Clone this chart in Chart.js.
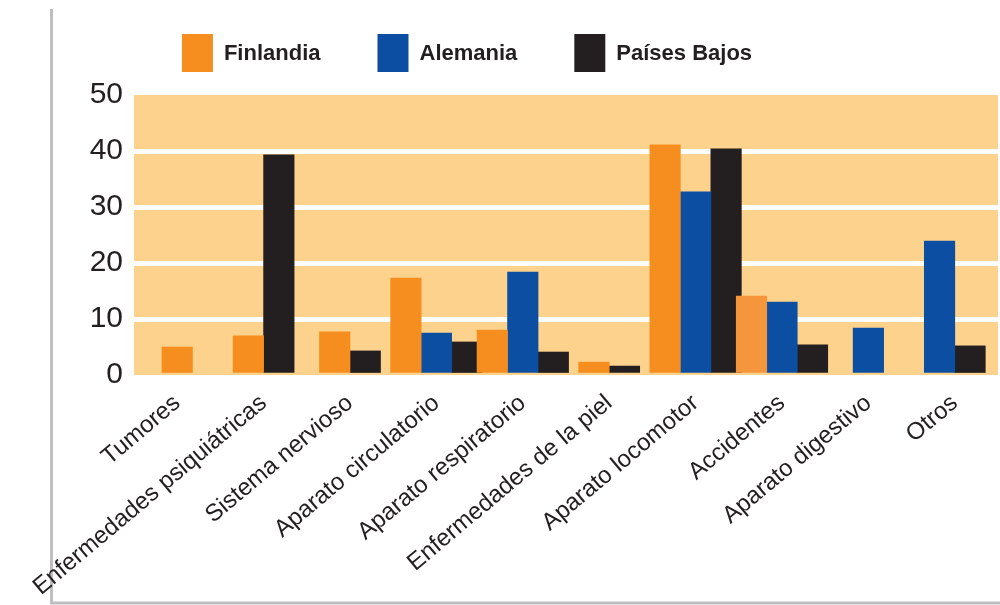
<!DOCTYPE html>
<html>
<head>
<meta charset="utf-8">
<script src="https://cdn.jsdelivr.net/npm/chart.js@4"></script>
<style>
  body { margin: 0; background: #fff; }
  #wrap { width: 1000px; height: 605px; position: relative; }
</style>
</head>
<body>
<div id="wrap"><canvas id="chart"></canvas></div>
<script>
const categories = ['Tumores', 'Enfermedades psiquiátricas', 'Sistema nervioso', 'Aparato circulatorio',
  'Aparato respiratorio', 'Enfermedades de la piel', 'Aparato locomotor', 'Accidentes',
  'Aparato digestivo', 'Otros'];
const finlandia = [5.0, 7.0, 7.7, 17.3, 8.0, 2.3, 41.1, 14.1, null, null];
const alemania = [null, null, null, 7.5, 18.4, null, 32.7, 13.0, 8.4, 23.9];
const paisesBajos = [null, 39.3, 4.3, 5.9, 4.1, 1.6, 40.4, 5.4, null, 5.2];
const yTicks = [0, 10, 20, 30, 40, 50];

const FONT = "'Liberation Sans', Arial, Helvetica, sans-serif";
const INK = '#231F20';
const ORANGE = '#F58E1F';
const ORANGE_LIGHT = '#F5963D';
const BLUE = '#0C4FA2';
const BAND = '#FDD28C';

// orange fill behind the plot + grey frame lines on the left and bottom
const backdrop = {
  id: 'backdrop',
  beforeDraw(chart) {
    const {ctx, chartArea: a} = chart;
    ctx.save();
    ctx.fillStyle = BAND;
    ctx.fillRect(a.left, a.top, a.right - a.left, a.bottom - a.top);
    ctx.strokeStyle = '#BFBFC2';
    ctx.lineWidth = 3;
    ctx.beginPath();
    ctx.moveTo(51.5, 9);
    ctx.lineTo(51.5, 603);
    ctx.lineTo(1000, 603);
    ctx.stroke();
    ctx.restore();
  }
};

// the legend sits a bit left of centre and above its box
const legendNudge = {
  id: 'legendNudge',
  afterLayout(chart) {
    const lg = chart.legend;
    lg.left -= 32; lg.right -= 32;
    lg.top -= 23; lg.bottom -= 23;
  }
};

new Chart(document.getElementById('chart'), {
  type: 'bar',
  data: {
    labels: categories,
    datasets: [
      { label: 'Finlandia', data: finlandia,
        backgroundColor: c => c.dataIndex === 7 ? ORANGE_LIGHT : ORANGE },
      { label: 'Alemania', data: alemania, backgroundColor: BLUE },
      { label: 'Países Bajos', data: paisesBajos, backgroundColor: INK }
    ]
  },
  options: {
    responsive: true,
    maintainAspectRatio: false,
    animation: false,
    skipNull: true,
    barThickness: 30.5,
    layout: { padding: { top: 0, left: 0, right: 2, bottom: 0 } },
    plugins: {
      tooltip: { enabled: false },
      legend: {
        position: 'top',
        maxHeight: 95,
        labels: {
          boxWidth: 31,
          boxHeight: 40,
          padding: 57,
          color: INK,
          font: { family: FONT, size: 22, weight: 'bold' }
        }
      }
    },
    scales: {
      x: {
        grid: { display: false },
        border: { display: false },
        ticks: {
          color: INK,
          minRotation: 40,
          maxRotation: 40,
          autoSkip: false,
          padding: 6,
          font: { family: FONT, size: 24 }
        },
        afterFit(scale) { scale.height = 230; }
      },
      y: {
        min: 0,
        max: 50,
        afterBuildTicks(scale) { scale.ticks = yTicks.map(v => ({ value: v })); },
        grid: {
          color: c => (c.tick.value === 0 || c.tick.value === 50) ? 'rgba(0,0,0,0)' : '#FFFFFF',
          lineWidth: 5,
          drawTicks: false
        },
        border: { display: false },
        ticks: {
          color: INK,
          padding: 11,
          font: { family: FONT, size: 30 }
        },
        afterFit(scale) { scale.width = 134; }
      }
    }
  },
  plugins: [backdrop, legendNudge]
});
</script>
</body>
</html>
